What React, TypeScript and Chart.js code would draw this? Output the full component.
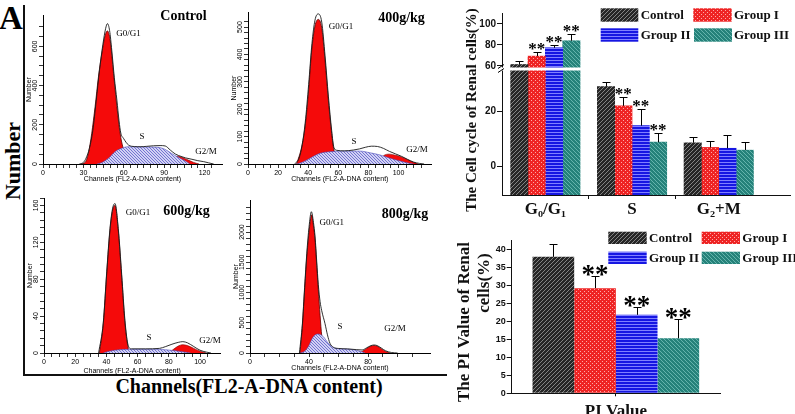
import React, { useEffect, useRef } from 'react';
import { Chart, registerables } from 'chart.js';

Chart.register(...registerables);

// ================= DATA =================
// Flow-cytometry histograms: [channel, number] pairs
const controlG0G1 = [[28,0],[31.3,8],[33.7,54],[36.2,156],[38.7,292],[41.2,444],[43.7,563],[46.2,657],[47.9,679],[49.9,631],[52.4,462],[54.9,292],[57.3,156],[59.3,88],[62,40],[66,0]];
const controlS = [[40,0],[44,8],[48.6,29],[53.5,63],[58.4,80],[63.3,88],[75,87],[85.6,85],[90.6,75],[95.5,54],[100.5,34],[105.4,17],[109.1,0]];
const controlG2M = [[96,0],[100,40],[104,32],[108,20],[112,8],[116,0]];
const controlTotal = [[27,0],[30,8],[32,30],[34.5,80],[37,170],[39.5,320],[42,480],[44.5,610],[46.5,690],[47.9,716],[49.5,680],[51.1,580],[53,440],[54.9,326],[56.5,220],[57.8,158],[59.8,131],[63.5,97],[68,89],[72.2,88],[77,90],[82.1,93],[87,94],[90.8,92],[94.6,71],[98.3,51],[103.3,37],[106,31],[110.7,24],[115,17],[119.4,12],[123,6],[126.8,0]];

const dose400G0G1 = [[32.3,0],[35.7,63],[37.9,135],[40.1,256],[42.3,413],[44.5,504],[46.7,528],[49,497],[51.2,377],[53.4,232],[55.6,111],[57.1,51],[60,20],[63,0]];
const dose400S = [[32.3,0],[36,6],[41.2,21],[47.8,39],[54.5,45],[65,47],[74.4,47],[81,41],[87.7,33],[94.4,21],[101,11],[107.6,2],[110,0]];
const dose400G2M = [[86,0],[90,30],[94,36],[98,32],[102,26],[106,16],[110,6],[113,0]];
const dose400Total = [[31,0],[34,22],[36,70],[38,150],[40.3,290],[42.5,440],[44.5,525],[46.7,548],[49,518],[51.2,395],[53.4,248],[55.6,122],[57.1,60],[59,50],[64,48],[70,51],[74,55],[78,61],[82,65],[86,64],[90,57],[94,46],[98,37],[102,28],[106,17],[110,7],[114,2],[117,0]];

const dose600G0G1 = [[35.5,0],[38,32],[40.2,86],[42.3,133],[44,155],[45.5,160],[47.6,133],[49.8,82],[51.9,32],[54,5],[55.5,0]];
const dose600S = [[38,0],[42,2],[48,3.5],[55,4],[70,4],[78,3.5],[84,2.5],[90,1],[94,0]];
const dose600G2M = [[80,0],[83,4],[86,7.5],[89,9],[92,8],[96,5],[100,2],[104,0]];
const dose600Total = [[35,0],[38,33],[40.2,88],[42.3,135],[44,157],[45.5,162],[47.6,135],[49.8,85],[51.9,35],[54,8],[56,4.5],[65,4.5],[74,5],[78,7],[82,9.5],[86,11.5],[89,12.3],[92,11],[96,7],[100,3],[104,1],[107,0]];

const dose800G0G1 = [[33.9,0],[35.5,450],[37,1041],[38.5,1600],[39.5,1868],[40.7,2150],[41.8,2285],[43,2100],[44.1,1868],[45.2,1450],[46.3,1041],[47.5,620],[48.6,290],[50,90],[51.5,20],[53,0]];
const dose800S = [[34,0],[37,30],[39.5,105],[42.9,270],[46.3,314],[49.7,270],[53.1,160],[57.6,80],[63.3,66],[70,55],[74.6,28],[78,0]];
const dose800G2M = [[73,0],[76,25],[79,75],[82,115],[84,125],[86,115],[89,70],[92,25],[95,0]];
const dose800Total = [[33.5,0],[35.5,480],[37,1080],[38.5,1650],[40,2080],[41.6,2336],[43,2160],[44.1,1920],[45.2,1520],[46.3,1130],[47.5,850],[48.6,700],[50.8,490],[52.5,300],[54.2,160],[56.5,95],[60,75],[66,68],[72,56],[76,50],[79,85],[82,122],[84,132],[86,124],[89,82],[92,35],[96,8],[100,0]];

// Cell cycle bar chart (%)
const phaseLabels = ['G₀/G₁', 'S', 'G₂+M'];
const groupNames = ['Control', 'Group I', 'Group II', 'Group III'];
const cycleControl = [61.3, 29.1, 8.7];
const cycleControlErr = [3.5, 1.8, 2.2];
const cycleGroup1 = [69.3, 22.1, 7.0];
const cycleGroup1Err = [4.2, 3.4, 2.5];
const cycleGroup2 = [77.3, 14.9, 6.7];
const cycleGroup2Err = [2.6, 6.0, 4.8];
const cycleGroup3 = [84.0, 8.9, 6.0];
const cycleGroup3Err = [6.2, 3.2, 3.1];
const cycleSigControl = ['', '', ''];
const cycleSigGroup1 = ['**', '**', ''];
const cycleSigGroup2 = ['**', '**', ''];
const cycleSigGroup3 = ['**', '**', ''];
const cycleLowTicks = [0, 20];
const cycleHighTicks = [60, 80, 100];

// PI value bar chart (%)
const piCategory = ['PI Value'];
const piValues = [37.9, 29.2, 21.8, 15.3];
const piErr = [3.5, 3.4, 2.1, 5.3];
const piSig = ['', '**', '**', '**'];
const piTicks = [0, 5, 10, 15, 20, 25, 30, 35, 40];

// ================= STYLE =================
const SERIF = "'Liberation Serif', 'Times New Roman', 'DejaVu Serif', serif";
const SANS = "'Liberation Sans', Arial, sans-serif";
const RED = '#f50a0a';

function makePattern(kind: string): any {
  const c = document.createElement('canvas');
  const g = c.getContext('2d') as CanvasRenderingContext2D;
  const line = (x1: number, y1: number, x2: number, y2: number) => {
    g.beginPath(); g.moveTo(x1, y1); g.lineTo(x2, y2); g.stroke();
  };
  if (kind === 'control') {
    c.width = 4; c.height = 4;
    g.fillStyle = '#262626'; g.fillRect(0, 0, 4, 4);
    g.strokeStyle = '#8e8e8e'; g.lineWidth = 0.9;
    line(0, 4, 4, 0); line(-1, 1, 1, -1); line(3, 5, 5, 3);
  } else if (kind === 'group1') {
    c.width = 4; c.height = 4;
    g.fillStyle = '#ee2424'; g.fillRect(0, 0, 4, 4);
    g.fillStyle = '#ffa8a8'; g.fillRect(0, 0, 1, 1); g.fillRect(2, 2, 1, 1);
  } else if (kind === 'group2') {
    c.width = 4; c.height = 3;
    g.fillStyle = '#1616e2'; g.fillRect(0, 0, 4, 3);
    g.fillStyle = '#8080ff'; g.fillRect(0, 0, 4, 1);
  } else if (kind === 'group3') {
    c.width = 4; c.height = 4;
    g.fillStyle = '#25827a'; g.fillRect(0, 0, 4, 4);
    g.strokeStyle = '#6cbab2'; g.lineWidth = 0.9;
    line(0, 0, 4, 4); line(-1, 3, 1, 5); line(3, -1, 5, 1);
  } else {
    c.width = 3; c.height = 3;
    g.fillStyle = '#d2d2f4'; g.fillRect(0, 0, 3, 3);
    g.strokeStyle = '#5c5cc8'; g.lineWidth = 0.8;
    line(0, 0, 3, 3); line(-1, 2, 1, 4); line(2, -1, 4, 1);
  }
  return g.createPattern(c, 'repeat');
}
const groupKinds = ['control', 'group1', 'group2', 'group3'];

const toPts = (a: number[][]) => a.map(([x, y]) => ({ x, y }));
const onStep = (v: number, step: number) => Math.abs(v / step - Math.round(v / step)) < 1e-6;

// ================= HISTOGRAMS =================
const histCfgs = [
  {
    box: { left: 25, top: 2, width: 215, height: 181 },
    area: { left: 18, top: 13, right: 197, bottom: 162 },
    xMax: 133, xStep: 5, xLabel: 30, yMax: 760, yStep: 50, yLabel: 200, yPad: -2,
    g1: controlG0G1, s: controlS, g2m: controlG2M, total: controlTotal,
    title: 'Control', titleAt: [158.5, 14], g1At: [103.5, 32], sAt: [117, 135], g2mAt: [181, 150],
  },
  {
    box: { left: 230, top: 2, width: 230, height: 181 },
    area: { left: 18, top: 10, right: 201.6, bottom: 162 },
    xMax: 122, xStep: 5, xLabel: 20, yMax: 555, yStep: 20, yLabel: 100, yPad: -2,
    g1: dose400G0G1, s: dose400S, g2m: dose400G2M, total: dose400Total,
    title: '400g/kg', titleAt: [171.5, 16], g1At: [111, 25], sAt: [124, 140], g2mAt: [187, 148],
  },
  {
    box: { left: 26, top: 188, width: 214, height: 187 },
    area: { left: 18, top: 10, right: 194.3, bottom: 165 },
    xMax: 113, xStep: 5, xLabel: 20, yMax: 168, yStep: 8, yLabel: 40, yPad: -2,
    g1: dose600G0G1, s: dose600S, g2m: dose600G2M, total: dose600Total,
    title: '600g/kg', titleAt: [160.5, 23], g1At: [112, 25], sAt: [123, 150], g2mAt: [184, 153],
  },
  {
    box: { left: 232, top: 188, width: 223, height: 184 },
    area: { left: 18, top: 12, right: 198, bottom: 165 },
    xMax: 122, xStep: 10, xLabel: 40, yMax: 2530, yStep: 100, yLabel: 500, yPad: -3.5,
    g1: dose800G0G1, s: dose800S, g2m: dose800G2M, total: dose800Total,
    title: '800g/kg', titleAt: [173, 26], g1At: [99.7, 35], sAt: [108, 138.7], g2mAt: [163, 141],
  },
];

function Histogram({ cfg }: { cfg: any }) {
  const ref = useRef<HTMLCanvasElement>(null);
  useEffect(() => {
    const { box, area } = cfg;
    const hatch = makePattern('hatch');
    const textPlugin = {
      id: 'histText',
      afterDraw(chart: any) {
        const ctx = chart.ctx;
        ctx.save();
        ctx.fillStyle = '#000';
        ctx.textAlign = 'center';
        ctx.textBaseline = 'middle';
        ctx.font = `bold 14px ${SERIF}`;
        ctx.fillText(cfg.title, cfg.titleAt[0], cfg.titleAt[1]);
        ctx.font = `9px ${SERIF}`;
        ctx.fillText('G0/G1', cfg.g1At[0], cfg.g1At[1]);
        ctx.fillText('S', cfg.sAt[0], cfg.sAt[1]);
        ctx.fillText('G2/M', cfg.g2mAt[0], cfg.g2mAt[1]);
        ctx.restore();
      },
    };
    const axisCommon = {
      type: 'linear',
      border: { display: true, color: '#000', width: 1 },
      grid: { display: true, drawOnChartArea: false, drawTicks: true, tickLength: 4, color: '#000', tickWidth: 0.8, offset: false },
    };
    const chart = new Chart(ref.current as HTMLCanvasElement, {
      type: 'line',
      data: {
        datasets: [
          { label: 'Total', data: toPts(cfg.total), borderColor: '#1a1a1a', borderWidth: 0.9, fill: false, order: 0 },
          { label: 'S', data: toPts(cfg.s), borderColor: '#4a4ab8', borderWidth: 0.6, backgroundColor: hatch, fill: 'origin', order: 1 },
          { label: 'G2/M', data: toPts(cfg.g2m), borderColor: '#7a0000', borderWidth: 0.6, backgroundColor: RED, fill: 'origin', order: 2 },
          { label: 'G0/G1', data: toPts(cfg.g1), borderColor: '#5a0000', borderWidth: 0.8, backgroundColor: RED, fill: 'origin', order: 3 },
        ] as any,
      },
      options: {
        animation: false,
        responsive: false,
        maintainAspectRatio: false,
        events: [],
        layout: { padding: { left: 0, top: area.top, right: box.width - area.right, bottom: 0 } },
        elements: { point: { radius: 0 }, line: { tension: 0.4, cubicInterpolationMode: 'monotone' } },
        plugins: { legend: { display: false }, tooltip: { enabled: false } },
        scales: {
          x: {
            ...axisCommon,
            min: 0, max: cfg.xMax,
            afterBuildTicks: (s: any) => { s.ticks = s.ticks.filter((t: any) => onStep(t.value, cfg.xStep)); },
            ticks: {
              stepSize: cfg.xStep, autoSkip: false, maxRotation: 0, minRotation: 0, padding: 1, color: '#000',
              font: { family: SANS, size: 7 },
              callback: (v: any) => (onStep(v, cfg.xLabel) ? String(v) : ''),
            },
            title: { display: true, text: 'Channels (FL2-A-DNA content)', color: '#000', font: { family: SANS, size: 7 }, padding: 0 },
            afterFit: (s: any) => { s.height = box.height - area.bottom; },
          },
          y: {
            ...axisCommon,
            min: 0, max: cfg.yMax,
            afterBuildTicks: (s: any) => { s.ticks = s.ticks.filter((t: any) => onStep(t.value, cfg.yStep)); },
            ticks: {
              stepSize: cfg.yStep, autoSkip: false, minRotation: 90, maxRotation: 90, crossAlign: 'center', padding: cfg.yPad, color: '#000',
              font: { family: SANS, size: 7 },
              callback: (v: any) => (onStep(v, cfg.yLabel) ? String(v) : ''),
            },
            title: { display: true, text: 'Number', color: '#000', font: { family: SANS, size: 7 }, padding: 0 },
            afterFit: (s: any) => { s.width = area.left; },
          },
        },
      } as any,
      plugins: [textPlugin],
    });
    return () => chart.destroy();
  }, []);
  const b = cfg.box;
  return <canvas ref={ref} width={b.width} height={b.height} style={{ position: 'absolute', left: b.left, top: b.top, width: b.width, height: b.height }} />;
}

// ================= BAR HELPERS =================
const makeErrorPlugin = (cap: number, starSize: number, starGap: number) => ({
  id: 'errbars',
  afterDatasetsDraw(chart: any) {
    const ctx = chart.ctx;
    ctx.save();
    ctx.strokeStyle = '#000';
    ctx.fillStyle = '#000';
    ctx.lineWidth = 1;
    chart.data.datasets.forEach((ds: any, di: number) => {
      const meta = chart.getDatasetMeta(di);
      const sc = chart.scales[meta.yAxisID];
      meta.data.forEach((el: any, j: number) => {
        const e = ds.errors ? ds.errors[j] : null;
        if (e == null) return;
        const raw = ds.data[j];
        const v = typeof raw === 'number' ? raw : raw.y;
        const top = Math.round(sc.getPixelForValue(v + e)) + 0.5;
        const x = Math.round(el.x) + 0.5;
        ctx.beginPath();
        ctx.moveTo(x, el.y);
        ctx.lineTo(x, top);
        ctx.moveTo(x - cap, top);
        ctx.lineTo(x + cap, top);
        ctx.stroke();
        const s = ds.sig ? ds.sig[j] : '';
        if (s) {
          ctx.font = `bold ${starSize}px ${SERIF}`;
          ctx.textAlign = 'center';
          ctx.textBaseline = 'alphabetic';
          ctx.fillText(s, el.x, top - starGap + 0.48 * starSize);
        }
      });
    });
    ctx.restore();
  },
});

const makeLegendPlugin = (items: any[], pats: any[], fontSize: number) => ({
  id: 'customLegend',
  afterDraw(chart: any) {
    const ctx = chart.ctx;
    ctx.save();
    items.forEach((it, i) => {
      ctx.fillStyle = pats[i];
      ctx.fillRect(it.x, it.y, it.w, it.h);
      ctx.fillStyle = '#111';
      ctx.font = `bold ${fontSize}px ${SERIF}`;
      ctx.textAlign = 'left';
      ctx.textBaseline = 'middle';
      ctx.fillText(groupNames[i], it.tx, it.y + it.h / 2 + 0.5);
    });
    ctx.restore();
  },
});

const makeTitlePlugin = (lines: any[]) => ({
  id: 'yTitle',
  afterDraw(chart: any) {
    const ctx = chart.ctx;
    ctx.save();
    ctx.fillStyle = '#111';
    ctx.textAlign = 'center';
    ctx.textBaseline = 'middle';
    lines.forEach((l) => {
      ctx.save();
      ctx.translate(l.x, l.y);
      ctx.rotate(-Math.PI / 2);
      ctx.font = `bold ${l.size}px ${SERIF}`;
      ctx.fillText(l.text, 0, 0);
      ctx.restore();
    });
    ctx.restore();
  },
});

// ================= CELL CYCLE CHART =================
const LOW_MIN = -10.3, LOW_MAX = 35.5, HIGH_MIN = 57, HIGH_MAX = 110.5;
const BAR_W = 17.35;

function CycleChart() {
  const ref = useRef<HTMLCanvasElement>(null);
  useEffect(() => {
    const pats = groupKinds.map(makePattern);
    const groups = [
      { vals: cycleControl, err: cycleControlErr, sig: cycleSigControl },
      { vals: cycleGroup1, err: cycleGroup1Err, sig: cycleSigGroup1 },
      { vals: cycleGroup2, err: cycleGroup2Err, sig: cycleSigGroup2 },
      { vals: cycleGroup3, err: cycleGroup3Err, sig: cycleSigGroup3 },
    ];
    const datasets: any[] = [];
    groups.forEach((g, gi) => {
      datasets.push({
        label: groupNames[gi], yAxisID: 'yLow', stack: groupNames[gi], base: LOW_MIN,
        data: phaseLabels.map((_, i) => ({ x: i + 1, y: i === 0 ? Math.min(g.vals[i], LOW_MAX) : g.vals[i] })),
        errors: g.err.map((e, i) => (i === 0 ? null : e)),
        sig: g.sig.map((s, i) => (i === 0 ? '' : s)),
        backgroundColor: pats[gi], borderWidth: 0, barThickness: BAR_W,
      });
      datasets.push({
        label: groupNames[gi], yAxisID: 'yHigh', stack: groupNames[gi], base: HIGH_MIN,
        data: [{ x: 1, y: g.vals[0] }],
        errors: [g.err[0]], sig: [g.sig[0]],
        backgroundColor: pats[gi], borderWidth: 0, barThickness: BAR_W,
      });
    });
    const breakPlugin = {
      id: 'axisBreak',
      afterDatasetsDraw(chart: any) {
        const ctx = chart.ctx;
        const b = chart.scales.yHigh.bottom;
        const a = chart.chartArea;
        ctx.save();
        ctx.fillStyle = '#fff';
        ctx.fillRect(a.left - 1, b - 1.5, a.right - a.left + 1, 3);
        ctx.strokeStyle = '#000';
        ctx.lineWidth = 1;
        ctx.beginPath();
        ctx.moveTo(a.left - 4, b - 0.5); ctx.lineTo(a.left + 2, b - 4.5);
        ctx.moveTo(a.left - 4, b + 3.5); ctx.lineTo(a.left + 2, b - 0.5);
        ctx.stroke();
        ctx.restore();
      },
    };
    const yCommon = {
      type: 'linear', position: 'left', stack: 'cycle', stacked: false, offset: false,
      border: { display: true, color: '#111', width: 1 },
      grid: { display: true, drawOnChartArea: false, tickLength: 5, color: '#111' },
      afterFit: (s: any) => { s.width = 47; },
    };
    const chart = new Chart(ref.current as HTMLCanvasElement, {
      type: 'bar',
      data: { datasets },
      options: {
        animation: false, responsive: false, maintainAspectRatio: false, events: [],
        layout: { padding: { left: 0, top: 13, right: 5, bottom: 0 } },
        plugins: { legend: { display: false }, tooltip: { enabled: false } },
        scales: {
          x: {
            type: 'linear', min: 0.5, max: 3.822, offset: false,
            border: { display: true, color: '#111', width: 1 },
            grid: {
              display: true, drawOnChartArea: false, offset: false, tickLength: 4,
              tickColor: (c: any) => (c.tick && onStep(c.tick.value, 1) ? 'rgba(0,0,0,0)' : '#111'),
            },
            afterBuildTicks: (s: any) => { s.ticks = [1, 1.5, 2, 2.5, 3].map((v) => ({ value: v })); },
            ticks: {
              autoSkip: false, maxRotation: 0, minRotation: 0, padding: 0, color: '#111',
              font: { family: SERIF, size: 17, weight: 'bold' },
              callback: (v: any) => (onStep(v, 1) ? phaseLabels[Math.round(v) - 1] : ''),
            },
            afterFit: (s: any) => { s.height = 30; },
          },
          yLow: {
            ...yCommon, weight: 0, stackWeight: 126, min: LOW_MIN, max: LOW_MAX,
            afterBuildTicks: (s: any) => { s.ticks = cycleLowTicks.map((v) => ({ value: v })); },
            ticks: { autoSkip: false, padding: 1, color: '#111', font: { family: SANS, size: 10, weight: 'bold' } },
          },
          yHigh: {
            ...yCommon, weight: 1, stackWeight: 56, min: HIGH_MIN, max: HIGH_MAX,
            afterBuildTicks: (s: any) => { s.ticks = cycleHighTicks.map((v) => ({ value: v })); },
            ticks: { autoSkip: false, padding: 1, color: '#111', font: { family: SANS, size: 10, weight: 'bold' } },
          },
        },
      } as any,
      plugins: [
        breakPlugin,
        makeErrorPlugin(4, 17, 6.5),
        makeLegendPlugin([
          { x: 145.7, y: 8.3, w: 37.6, h: 13.4, tx: 185.7 },
          { x: 238.3, y: 8.3, w: 38.4, h: 13.4, tx: 279 },
          { x: 145.7, y: 28.3, w: 37.6, h: 13.4, tx: 185.7 },
          { x: 239, y: 28.3, w: 38, h: 13.4, tx: 279 },
        ], pats, 13),
        makeTitlePlugin([{ text: 'The Cell cycle of Renal cells(%)', x: 17, y: 110, size: 15 }]),
      ],
    });
    return () => chart.destroy();
  }, []);
  return <canvas ref={ref} width={340} height={225} style={{ position: 'absolute', left: 455, top: 0, width: 340, height: 225 }} />;
}

// ================= PI CHART =================
function PIChart() {
  const ref = useRef<HTMLCanvasElement>(null);
  useEffect(() => {
    const pats = groupKinds.map(makePattern);
    const datasets = groupNames.map((n, i) => ({
      label: n, data: [piValues[i]], errors: [piErr[i]], sig: [piSig[i]],
      backgroundColor: pats[i], borderWidth: 0, categoryPercentage: 0.8, barPercentage: 1.0,
    }));
    const chart = new Chart(ref.current as HTMLCanvasElement, {
      type: 'bar',
      data: { labels: piCategory, datasets },
      options: {
        animation: false, responsive: false, maintainAspectRatio: false, events: [],
        layout: { padding: { left: 0, top: 15.3, right: 75, bottom: 0 } },
        plugins: { legend: { display: false }, tooltip: { enabled: false } },
        scales: {
          x: {
            offset: true,
            border: { display: true, color: '#111', width: 1 },
            grid: { display: true, drawOnChartArea: false, offset: false, tickLength: 3, color: '#111' },
            ticks: { padding: 5, color: '#111', font: { family: SERIF, size: 17, weight: 'bold' } },
            afterFit: (s: any) => { s.height = 20.7; },
          },
          y: {
            min: 0, max: 42.5,
            border: { display: true, color: '#111', width: 1 },
            grid: { display: true, drawOnChartArea: false, tickLength: 5, color: '#111' },
            afterBuildTicks: (s: any) => { s.ticks = piTicks.map((v) => ({ value: v })); },
            ticks: { autoSkip: false, padding: 1, color: '#111', font: { family: SANS, size: 9, weight: 'bold' } },
            afterFit: (s: any) => { s.width = 61.7; },
          },
        },
      } as any,
      plugins: [
        makeErrorPlugin(4, 27, 6),
        makeLegendPlugin([
          { x: 158.3, y: 6.7, w: 38.4, h: 12.3, tx: 199 },
          { x: 251.7, y: 6.7, w: 38.3, h: 12.3, tx: 292.3 },
          { x: 158.3, y: 26.7, w: 38.4, h: 12.3, tx: 199 },
          { x: 251.7, y: 26.7, w: 38.3, h: 12.3, tx: 292.3 },
        ], pats, 13),
        makeTitlePlugin([
          { text: 'The PI Value of Renal', x: 15, y: 97, size: 17 },
          { text: 'cells(%)', x: 35, y: 58, size: 17 },
        ]),
      ],
    });
    return () => chart.destroy();
  }, []);
  return <canvas ref={ref} width={345} height={189} style={{ position: 'absolute', left: 450, top: 225, width: 345, height: 189 }} />;
}

// ================= APP =================
export default function App() {
  return (
    <div style={{ position: 'absolute', left: 0, top: 0, width: 795, height: 414, background: '#fff', overflow: 'hidden' }}>
      <div style={{ position: 'absolute', left: 23, top: 5, width: 2, height: 371, background: '#111' }} />
      <div style={{ position: 'absolute', left: 23, top: 374, width: 424, height: 2, background: '#111' }} />
      <div style={{ position: 'absolute', left: -1, top: 2, font: `bold 33px ${SERIF}`, lineHeight: '33px', color: '#000' }}>A</div>
      <div style={{ position: 'absolute', left: 13, top: 161, transform: 'translate(-50%, -50%) rotate(-90deg)', font: `bold 22px ${SERIF}`, lineHeight: '22px', whiteSpace: 'nowrap', color: '#000' }}>Number</div>
      <div style={{ position: 'absolute', left: 249, top: 376, transform: 'translateX(-50%)', font: `bold 20px ${SERIF}`, lineHeight: '20px', whiteSpace: 'nowrap', color: '#000' }}>Channels(FL2-A-DNA content)</div>
      {histCfgs.map((c, i) => <Histogram key={i} cfg={c} />)}
      <CycleChart />
      <PIChart />
    </div>
  );
}
